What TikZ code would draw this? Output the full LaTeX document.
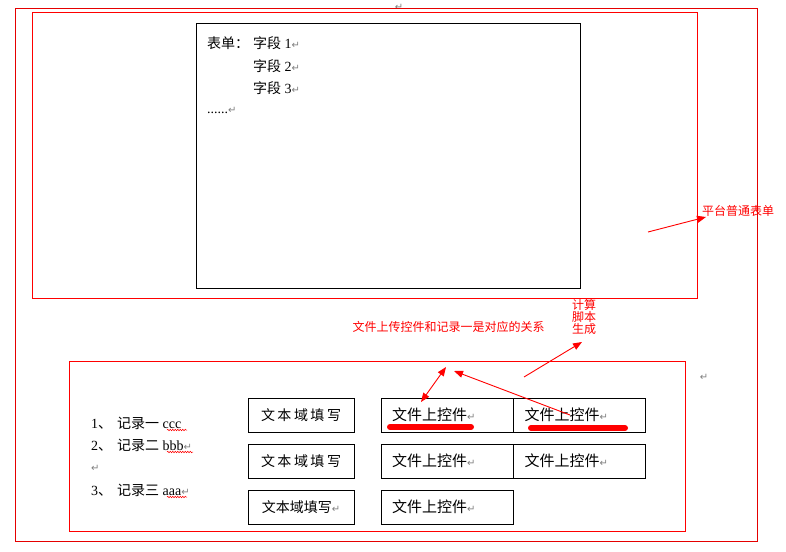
\documentclass[tikz,border=0pt]{standalone}
\usepackage{fontspec}
\setmainfont{Liberation Serif}
\newfontfamily\cjk{Noto Sans CJK SC}
\newfontfamily\dvs{DejaVu Sans}
\usetikzlibrary{arrows.meta,decorations.pathmorphing}
\newcommand\zh[1]{{\cjk #1}}
\newcommand\retmark{{\dvs\color{gray}\fontsize{10}{10}\selectfont ↵}}
\tikzset{
  redframe/.style={draw=red, line width=1pt},
  outerframe/.style={draw=red!90!black, line width=1pt},
  blackframe/.style={draw=black, line width=1pt},
  formtext/.style={anchor=west, inner sep=0pt, font=\fontsize{14}{14}\selectfont},
  tbox/.style={draw=black, line width=1pt, minimum width=106pt, minimum height=34pt, inner sep=0pt, font=\cjk\fontsize{14}{14}\selectfont},
  fbox/.style={draw=black, line width=1pt, minimum width=132pt, minimum height=34pt, text width=110pt, inner xsep=11pt, inner ysep=0pt, align=left, font=\cjk\fontsize{15}{15}\selectfont},
  redlab/.style={text=red, inner sep=0pt, font=\cjk\fontsize{12}{12}\selectfont},
  redarrow/.style={draw=red, line width=0.9pt, -{Triangle[length=9pt,width=7pt]}},
  redmark/.style={draw=red, line width=6pt, line cap=round},
  wavy/.style={draw=red, line width=0.5pt, decorate, decoration={snake, segment length=2.5pt, amplitude=0.8pt}},
  retnode/.style={inner sep=0pt}
}
\begin{document}
\begin{tikzpicture}[x=1pt,y=-1pt]
\useasboundingbox[fill=white] (0,0) rectangle (786,551);
% stray return marks
\node[retnode] (r0) at (399,7) {\retmark};
\node[retnode] (r1) at (704,377) {\retmark};
% frames
\draw[outerframe] (15,9) rectangle (757,541);
\draw[redframe] (32,13) rectangle (697,298);
\draw[blackframe] (196,24) rectangle (580,288);
\draw[redframe] (69,361) rectangle (685,531);
% form text
\node[formtext] (f0) at (207,43) {\zh{表单：}\hspace{4pt}\zh{字段} 1\retmark};
\node[formtext] (f1) at (253,66) {\zh{字段} 2\retmark};
\node[formtext] (f2) at (253,88) {\zh{字段} 3\retmark};
\node[formtext] (f3) at (207,110) {......\retmark};
% list
\node[formtext] (l1) at (91,423) {1\zh{、}\hspace{5pt}\zh{记录一} ccc};
\node[formtext] (l2) at (91,445) {2\zh{、}\hspace{5pt}\zh{记录二} bbb\retmark};
\node[formtext] (l2b) at (91,468) {\retmark};
\node[formtext] (l3) at (91,490) {3\zh{、}\hspace{5pt}\zh{记录三} aaa\retmark};
\draw[wavy] (167,430) -- (187,430);
\draw[wavy] (167,452) -- (193,452);
\draw[wavy] (167,497) -- (187,497);
% text field boxes
\node[tbox] (t1) at (301,415) {文\kern2.5pt 本\kern2.5pt 域\kern2.5pt 填\kern2.5pt 写};
\node[tbox] (t2) at (301,461) {文\kern2.5pt 本\kern2.5pt 域\kern2.5pt 填\kern2.5pt 写};
\node[tbox] (t3) at (301,507) {文本域填写\retmark};
% file upload boxes
\node[fbox] (u11) at (447,415) {文件上控件\retmark};
\node[fbox] (u12) at (579.5,415) {文件上控件\retmark};
\node[fbox] (u21) at (447,461) {文件上控件\retmark};
\node[fbox] (u22) at (579.5,461) {文件上控件\retmark};
\node[fbox] (u31) at (447,507) {文件上控件\retmark};
% red highlight strokes
\coordinate (m1a) at (390,427);
\coordinate (m1b) at (471,427);
\coordinate (m2a) at (531,428);
\coordinate (m2b) at (625,428);
\draw[redmark] (m1a) -- (m1b);
\draw[redmark] (m2a) -- (m2b);
% labels
\node[redlab, anchor=west] (lab1) at (702,211) {平台普通表单};
\node[redlab] (lab2) at (448.5,327) {文件上传控件和记录一是对应的关系};
\node[redlab, align=center] (lab3) at (584,317) {计算\\脚本\\生成};
% arrows
\coordinate (a1s) at (421,402);
\coordinate (a1e) at (446,367);
\coordinate (a2s) at (570,415);
\coordinate (a2e) at (454,371);
\coordinate (a3s) at (524,377);
\coordinate (a3e) at (582,342);
\coordinate (a4s) at (648,232);
\coordinate (a4e) at (706,217);
\draw[redarrow, {Triangle[length=9pt,width=7pt]}-{Triangle[length=9pt,width=7pt]}] (a1s) -- (a1e);
\draw[redarrow] (a2s) -- (a2e);
\draw[redarrow] (a3s) -- (a3e);
\draw[redarrow] (a4s) -- (a4e);
\end{tikzpicture}
\end{document}
